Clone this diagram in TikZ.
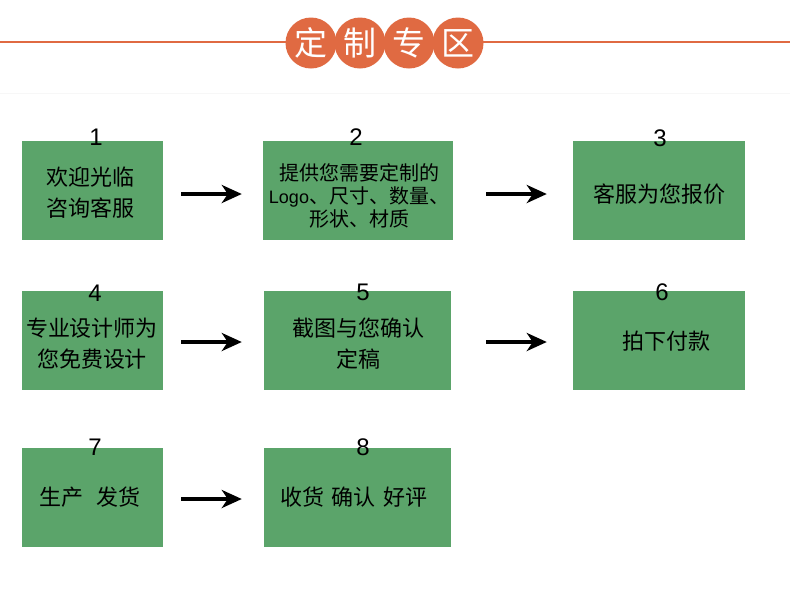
\documentclass[tikz,border=0pt]{standalone}
\usepackage{fontspec}
\setmainfont{Liberation Sans}
\newfontfamily\cjk{Noto Sans CJK SC}
\newfontfamily\latn{Liberation Sans}
\usetikzlibrary{arrows.meta}
\definecolor{boxgreen}{RGB}{91,164,106}
\definecolor{hdr}{RGB}{224,106,66}
\begin{document}
\begin{tikzpicture}[x=1pt,y=-1pt,
  stepbox/.style={fill=boxgreen,draw=none,inner sep=0pt,minimum height=99pt},
  numlbl/.style={font=\fontsize{24}{24}\selectfont,inner sep=0pt,text=black},
  boxtext/.style={font=\cjk\fontsize{22}{31}\selectfont,align=center,inner sep=0pt},
  smalltext/.style={font=\cjk\fontsize{20}{23}\selectfont,align=center,inner sep=0pt},
  hcirc/.style={circle,fill=hdr,minimum size=51pt,inner sep=0pt,text=white,font=\cjk\fontsize{33}{33}\selectfont},
  arr/.style={line width=3.6pt,-{Stealth[length=20pt,width=18pt,inset=6pt]}}]
\useasboundingbox (0,0) rectangle (790,606);
\fill[white] (0,0) rectangle (790,606);
% header
\draw[hdr,line width=1.4pt] (0,42) -- (790,42);
\draw[black!3,line width=1pt] (0,93) -- (790,93);
\node[hcirc] (h1) at (311,43) {定};
\node[hcirc] (h2) at (360,43) {制};
\node[hcirc] (h3) at (409,43) {专};
\node[hcirc] (h4) at (458,43) {区};
% boxes
\node[stepbox,minimum width=141pt] (b1) at (92.5,190.5) {};
\node[stepbox,minimum width=190pt] (b2) at (358,190.5) {};
\node[stepbox,minimum width=172pt] (b3) at (659,190.5) {};
\node[stepbox,minimum width=141pt] (b4) at (92.5,340.5) {};
\node[stepbox,minimum width=187pt] (b5) at (357.5,340.5) {};
\node[stepbox,minimum width=172pt] (b6) at (659,340.5) {};
\node[stepbox,minimum width=141pt] (b7) at (92.5,497.5) {};
\node[stepbox,minimum width=187pt] (b8) at (357.5,497.5) {};
% texts
\node[boxtext] (t1) at (90,193) {欢迎光临\\咨询客服};
\node[smalltext] (t2) at (359,196) {提供您需要定制的\\{\latn\fontsize{18}{23}\selectfont Logo}、尺寸、数量、\\形状、材质};
\node[boxtext] (t3) at (659,194) {客服为您报价};
\node[boxtext] (t4) at (92,344) {专业设计师为\\您免费设计};
\node[boxtext] (t5) at (358,344) {截图与您确认\\定稿};
\node[boxtext] (t6) at (666,341) {拍下付款};
\node[boxtext] (t7) at (90,497) {生产\hspace{14pt}发货};
\node[boxtext] (t8) at (354,497) {收货\hspace{8pt}确认\hspace{8pt}好评};
% numbers
\node[numlbl] (n1) at (96,137) {1};
\node[numlbl] (n2) at (356,137) {2};
\node[numlbl] (n3) at (660,138) {3};
\node[numlbl] (n4) at (95,293) {4};
\node[numlbl] (n5) at (363,292) {5};
\node[numlbl] (n6) at (662,292) {6};
\node[numlbl] (n7) at (95,447) {7};
\node[numlbl] (n8) at (363,447) {8};
% arrows
\draw[arr,shorten <=18pt,shorten >=21pt] ([yshift=-3.5pt]b1.east) -- ([yshift=-3.5pt]b2.west);
\draw[arr,shorten <=33pt,shorten >=26pt] ([yshift=-3.5pt]b2.east) -- ([yshift=-3.5pt]b3.west);
\draw[arr,shorten <=18pt,shorten >=22pt] ([yshift=-1.5pt]b4.east) -- ([yshift=-1.5pt]b5.west);
\draw[arr,shorten <=35pt,shorten >=26pt] ([yshift=-1.5pt]b5.east) -- ([yshift=-1.5pt]b6.west);
\draw[arr,shorten <=18pt,shorten >=22pt] ([yshift=-1.5pt]b7.east) -- ([yshift=-1.5pt]b8.west);
\end{tikzpicture}
\end{document}
